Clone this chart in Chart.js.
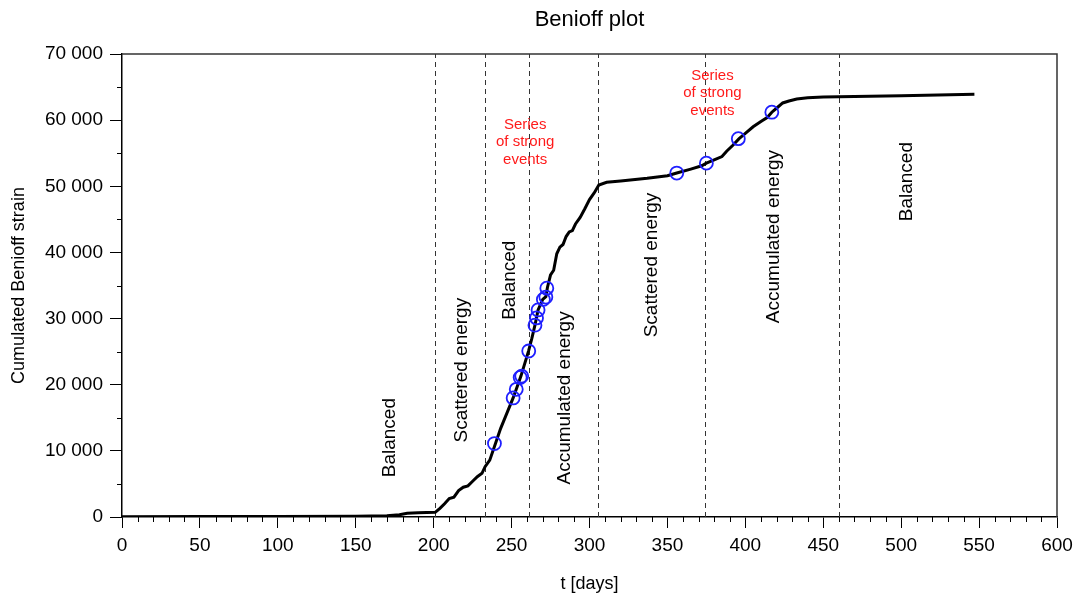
<!DOCTYPE html>
<html>
<head>
<meta charset="utf-8">
<title>Benioff plot</title>
<script src="https://cdn.jsdelivr.net/npm/chart.js@4/dist/chart.umd.min.js"></script>
<style>
  html, body { margin: 0; padding: 0; background: #fff; }
  #wrap { width: 1076px; height: 599px; }
</style>
</head>
<body>
<div id="wrap"><canvas id="benioff"></canvas></div>
<script>
// cumulated Benioff strain curve (days, value)
const curveDays = [0, 50, 100, 150, 170, 178, 183, 190, 201, 204, 207, 210, 213, 216, 219, 222, 225, 228, 231, 233,
  236, 239.5, 243, 247, 251, 253, 256, 261, 263, 265, 267, 270, 272, 273, 275, 277, 279, 281, 283, 285, 287, 289, 291,
  294, 297, 300, 303, 306, 311, 320, 337, 350, 356, 365, 372, 375, 380, 385, 388, 392, 396, 400, 405, 410, 414, 417,
  420, 424, 428, 433, 440, 450, 480, 500, 547];
const curveValues = [50, 60, 80, 120, 200, 350, 550, 650, 700, 1300, 2000, 2800, 3000, 4000, 4500, 4700, 5400, 6100, 6600, 7600,
  8600, 11000, 13400, 15700, 18000, 19300, 21300, 25200, 27000, 29000, 31300, 32900, 33300, 34700, 36600, 37300, 39800, 40800, 41200, 42400, 43100, 43300, 44300,
  45300, 46600, 48000, 49000, 50200, 50600, 50800, 51200, 51600, 52000, 52600, 53100, 53500, 54000, 54500, 55300, 56200, 57200, 58000, 59000, 59800, 60400, 61200,
  61800, 62600, 62900, 63200, 63400, 63500, 63600, 63700, 63900];

// strong events (blue circles)
const eventDays = [239, 251, 253, 255.5, 256.5, 261, 265, 266, 267, 270.4, 272, 272.6, 356, 375, 395.5, 417];
const eventValues = [11100, 18000, 19300, 21100, 21300, 25100, 29000, 30100, 31300, 32900, 33250, 34600, 52000, 53500, 57200, 61200];

// phase boundaries (dashed lines)
const boundaryDays = [201, 233, 261, 305.5, 374, 460];

// phase labels
const phaseLabels = ['Balanced', 'Scattered energy', 'Balanced', 'Accumulated energy', 'Scattered energy', 'Accumulated energy', 'Balanced'];
const phaseDays = [172, 218, 249, 284.4, 340, 418, 503.6];
const phaseValues = [12000, 22200, 35800, 18000, 38100, 42400, 50700];

const noteLines = ['Series', 'of strong', 'events'];
const noteDays = [258.7, 378.9];
const noteValues = [56700, 64060];

const xTicks = [0, 50, 100, 150, 200, 250, 300, 350, 400, 450, 500, 550, 600];
const yTicks = [0, 10000, 20000, 30000, 40000, 50000, 60000, 70000];

const chartTitle = 'Benioff plot';
const FONT = "'Liberation Sans', Arial, sans-serif";

const fmt = v => String(v).replace(/\B(?=(\d{3})+(?!\d))/g, ' ');

const extras = {
  id: 'extras',
  beforeDatasetsDraw(chart) {
    const { ctx, chartArea: a, scales: { x, y } } = chart;
    ctx.save();
    // dashed phase boundaries
    ctx.strokeStyle = '#333';
    ctx.lineWidth = 1;
    ctx.setLineDash([5, 4]);
    boundaryDays.forEach(d => {
      const px = Math.round(x.getPixelForValue(d)) + 0.5;
      ctx.beginPath();
      ctx.moveTo(px, a.bottom);
      ctx.lineTo(px, a.top);
      ctx.stroke();
    });
    ctx.setLineDash([]);
    // minor ticks
    ctx.strokeStyle = '#000';
    ctx.lineWidth = 1;
    for (let v = 0; v <= 600; v += 10) {
      if (v % 50 === 0) continue;
      const px = Math.round(x.getPixelForValue(v)) + 0.5;
      ctx.beginPath();
      ctx.moveTo(px, a.bottom);
      ctx.lineTo(px, a.bottom + 5);
      ctx.stroke();
    }
    for (let v = 5000; v < 70000; v += 10000) {
      const py = Math.round(y.getPixelForValue(v)) + 0.5;
      ctx.beginPath();
      ctx.moveTo(a.left, py);
      ctx.lineTo(a.left - 5, py);
      ctx.stroke();
    }
    // frame top / right
    ctx.strokeStyle = '#333';
    ctx.lineWidth = 1.5;
    ctx.beginPath();
    ctx.moveTo(a.left, a.top);
    ctx.lineTo(a.right, a.top);
    ctx.lineTo(a.right, a.bottom);
    ctx.stroke();
    // title centred over the plot area
    ctx.fillStyle = '#000';
    ctx.font = '22px ' + FONT;
    ctx.textAlign = 'center';
    ctx.textBaseline = 'middle';
    ctx.fillText(chartTitle, (a.left + a.right) / 2, 20);
    ctx.restore();
  },
  afterDatasetsDraw(chart) {
    const { ctx, scales: { x, y } } = chart;
    ctx.save();
    ctx.textAlign = 'center';
    ctx.textBaseline = 'middle';
    ctx.fillStyle = '#000';
    ctx.font = '19px ' + FONT;
    phaseLabels.forEach((t, i) => {
      ctx.save();
      ctx.translate(x.getPixelForValue(phaseDays[i]), y.getPixelForValue(phaseValues[i]));
      ctx.rotate(-Math.PI / 2);
      ctx.fillText(t, 0, 0);
      ctx.restore();
    });
    ctx.fillStyle = '#ff1a1a';
    ctx.font = '15px ' + FONT;
    noteDays.forEach((d, i) => {
      const px = x.getPixelForValue(d);
      const py = y.getPixelForValue(noteValues[i]);
      noteLines.forEach((t, k) => ctx.fillText(t, px, py + (k - 1) * 17.5));
    });
    ctx.restore();
  }
};

new Chart(document.getElementById('benioff'), {
  type: 'line',
  data: {
    datasets: [
      {
        label: 'Cumulated Benioff strain',
        data: curveDays.map((d, i) => ({ x: d, y: curveValues[i] })),
        borderColor: '#000',
        borderWidth: 3,
        pointRadius: 0,
        tension: 0,
        fill: false,
        order: 2
      },
      {
        type: 'scatter',
        label: 'Strong events',
        data: eventDays.map((d, i) => ({ x: d, y: eventValues[i] })),
        borderColor: '#1f1fff',
        backgroundColor: 'rgba(0,0,0,0)',
        borderWidth: 1.8,
        pointRadius: 6.5,
        pointHoverRadius: 6.5,
        order: 1
      }
    ]
  },
  options: {
    responsive: true,
    maintainAspectRatio: false,
    animation: false,
    events: [],
    layout: { padding: { left: 0, right: 19, top: 54, bottom: 0 } },
    plugins: {
      legend: { display: false },
      tooltip: { enabled: false },
      title: { display: false }
    },
    scales: {
      x: {
        type: 'linear',
        min: 0,
        max: 600,
        afterFit: s => { s.height = 82; s.paddingLeft = 0; s.paddingRight = 0; },
        afterBuildTicks: s => { s.ticks = xTicks.map(v => ({ value: v })); },
        border: { color: '#000', width: 1.5 },
        grid: { drawOnChartArea: false, drawTicks: true, tickLength: 11, color: '#000' },
        ticks: { color: '#000', font: { family: FONT, size: 19 }, padding: 6, maxRotation: 0 },
        title: { display: true, text: 't [days]', color: '#000', font: { family: FONT, size: 18 }, padding: { top: 0, bottom: 4 } }
      },
      y: {
        type: 'linear',
        min: 0,
        max: 70000,
        afterFit: s => { s.width = 122; s.paddingTop = 0; s.paddingBottom = 0; },
        afterBuildTicks: s => { s.ticks = yTicks.map(v => ({ value: v })); },
        border: { color: '#000', width: 1.5 },
        grid: { drawOnChartArea: false, drawTicks: true, tickLength: 12, color: '#000' },
        ticks: { color: '#000', font: { family: FONT, size: 19 }, padding: 7, callback: v => fmt(v) },
        title: { display: true, text: 'Cumulated Benioff strain', color: '#000', font: { family: FONT, size: 18 }, padding: { top: 8, bottom: 0 } }
      }
    }
  },
  plugins: [extras]
});
</script>
</body>
</html>
